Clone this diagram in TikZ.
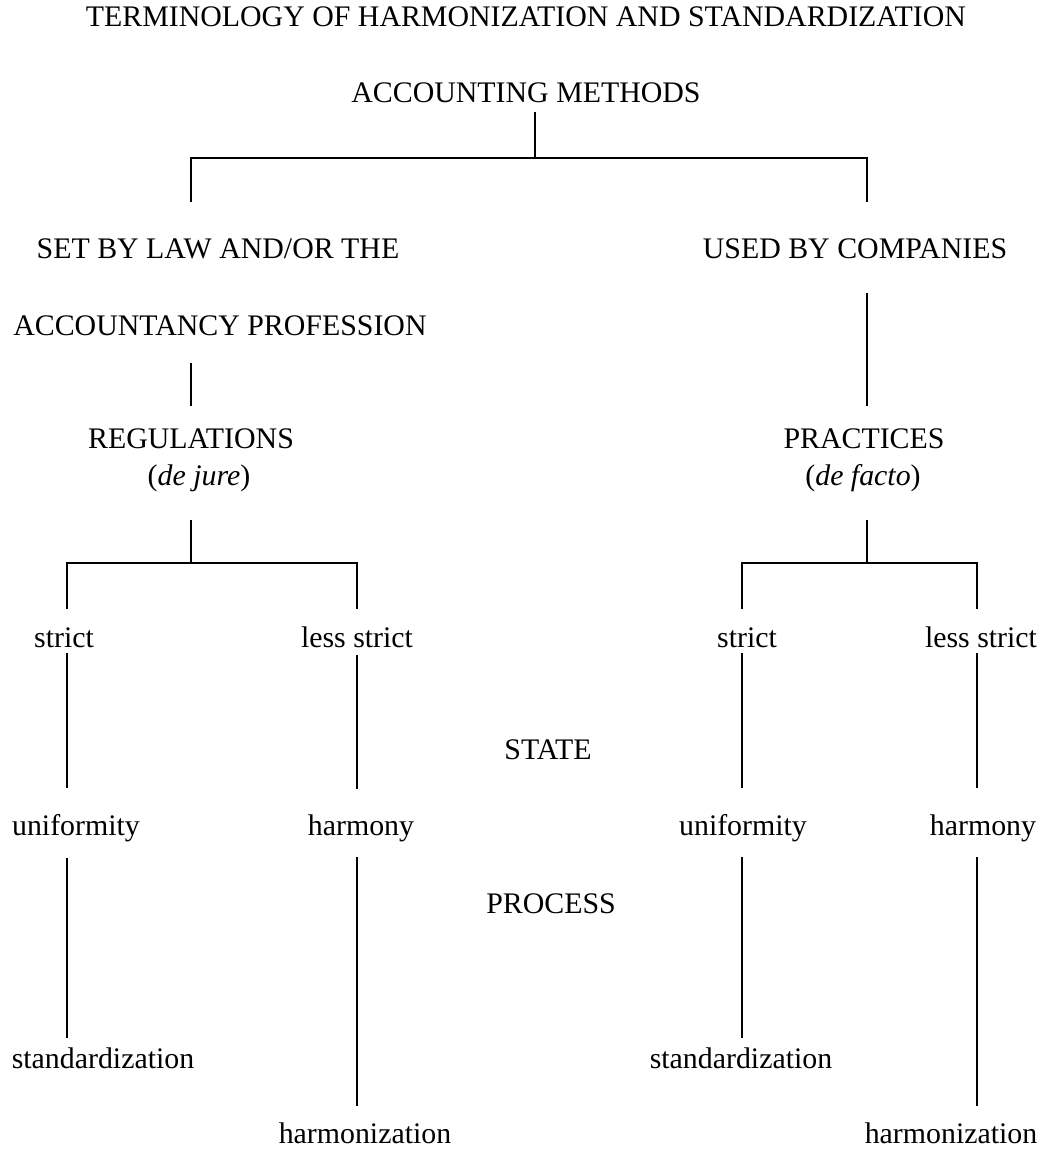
\documentclass[tikz,border=0pt]{standalone}
\usepackage{fontspec}
\setmainfont{Liberation Serif}
\begin{document}
\begin{tikzpicture}[x=0.75pt,y=0.75pt,yscale=-1,xscale=1,
  every node/.style={anchor=base,inner sep=0.75pt,font=\fontsize{22.4}{27}\selectfont},
  branch/.style={line width=1}]
%set diagram frame at 1045 x 1149
\useasboundingbox (0,0) rectangle (1045,1149);

% Text Node
\node (title) at (526,27) {TERMINOLOGY OF HARMONIZATION AND STANDARDIZATION};
% Text Node
\node (methods) at (526,103) {ACCOUNTING METHODS};
% Text Node
\node (law) at (218,258) {SET BY LAW AND/OR THE};
% Text Node
\node (law2) at (220,335) {ACCOUNTANCY PROFESSION};
% Text Node
\node (companies) at (855,258) {USED BY COMPANIES};
% Text Node
\node (regs) at (191,448) {REGULATIONS};
% Text Node
\node (dejure) at (199,485) {(\textit{de jure})};
% Text Node
\node (pract) at (864,448) {PRACTICES};
% Text Node
\node (defacto) at (863,485) {(\textit{de facto})};
% Text Node
\node (strictL) at (64,647) {strict};
% Text Node
\node (lessL) at (357,647) {less strict};
% Text Node
\node (strictR) at (747,647) {strict};
% Text Node
\node (lessR) at (981,647) {less strict};
% Text Node
\node (state) at (548,759) {STATE};
% Text Node
\node (unifL) at (76,835) {uniformity};
% Text Node
\node (harmL) at (361,835) {harmony};
% Text Node
\node (unifR) at (743,835) {uniformity};
% Text Node
\node (harmR) at (983,835) {harmony};
% Text Node
\node (process) at (551,913) {PROCESS};
% Text Node
\node (stdL) at (103,1068) {standardization};
% Text Node
\node (stdR) at (741,1068) {standardization};
% Text Node
\node (harmzL) at (365,1143) {harmonization};
% Text Node
\node (harmzR) at (951,1143) {harmonization};

%Line ends
\coordinate (mTop) at (535,112);
\coordinate (mJoin) at (535,158);
\coordinate (lawTop) at (191,202);
\coordinate (compTop) at (867,202);
\coordinate (lawBot) at (191,363);
\coordinate (regsTop) at (191,406);
\coordinate (compBot) at (867,293);
\coordinate (practTop) at (867,406);
\coordinate (regsBot) at (191,520);
\coordinate (regsJoin) at (191,563);
\coordinate (practBot) at (867,520);
\coordinate (practJoin) at (867,563);
\coordinate (sLTop) at (67,609);
\coordinate (lLTop) at (357,609);
\coordinate (sRTop) at (742,609);
\coordinate (lRTop) at (977,609);
\coordinate (sLBot) at (67,653);
\coordinate (lLBot) at (357,655);
\coordinate (sRBot) at (742,653);
\coordinate (lRBot) at (977,653);
\coordinate (uLTop) at (67,788);
\coordinate (hLTop) at (357,789);
\coordinate (uRTop) at (742,788);
\coordinate (hRTop) at (977,788);
\coordinate (uLBot) at (67,858);
\coordinate (hLBot) at (357,857);
\coordinate (uRBot) at (742,857);
\coordinate (hRBot) at (977,857);
\coordinate (stdLTop) at (67,1038);
\coordinate (hzLTop) at (357,1106);
\coordinate (stdRTop) at (742,1038);
\coordinate (hzRTop) at (977,1106);

%Straight Lines
\draw [branch] (mTop) -- (mJoin);
\draw [branch] (lawTop) -- (lawTop |- mJoin) -- (compTop |- mJoin) -- (compTop);
%Straight Lines
\draw [branch] (lawBot) -- (regsTop);
\draw [branch] (compBot) -- (practTop);
%Straight Lines
\draw [branch] (regsBot) -- (regsJoin);
\draw [branch] (sLTop) -- (sLTop |- regsJoin) -- (lLTop |- regsJoin) -- (lLTop);
\draw [branch] (practBot) -- (practJoin);
\draw [branch] (sRTop) -- (sRTop |- practJoin) -- (lRTop |- practJoin) -- (lRTop);
%Straight Lines
\draw [branch] (sLBot) -- (uLTop);
\draw [branch] (lLBot) -- (hLTop);
\draw [branch] (sRBot) -- (uRTop);
\draw [branch] (lRBot) -- (hRTop);
%Straight Lines
\draw [branch] (uLBot) -- (stdLTop);
\draw [branch] (hLBot) -- (hzLTop);
\draw [branch] (uRBot) -- (stdRTop);
\draw [branch] (hRBot) -- (hzRTop);

\end{tikzpicture}
\end{document}
